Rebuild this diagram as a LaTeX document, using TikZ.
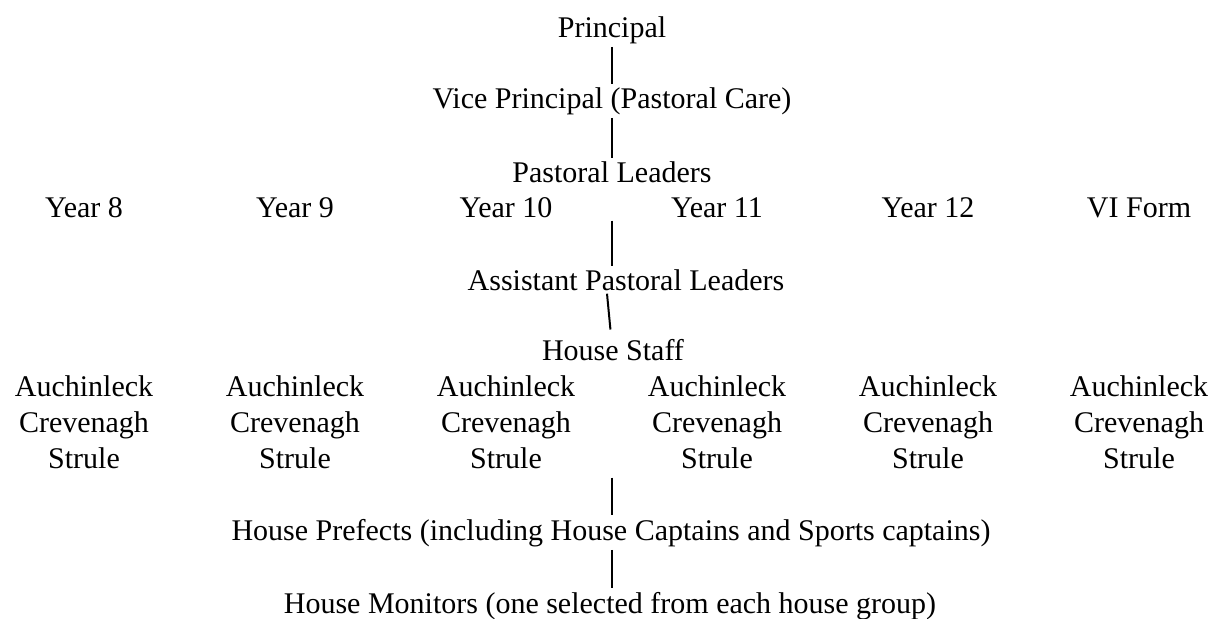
\documentclass[tikz,border=0pt]{standalone}
\usepackage{fontspec}
\setmainfont{Liberation Serif}

\begin{document}
\begin{tikzpicture}[x=0.5pt,y=-0.5pt,
    lbl/.style={anchor=base,inner sep=1.5pt,font=\fontsize{15}{17.8}\selectfont},
    link/.style={line width=1pt}]
                    \useasboundingbox (0,0) rectangle (1213,618);
                    % top of the chain
                    \node[lbl] (prin) at (612,37) {Principal};
                    \node[lbl] (vice) at (612,108) {Vice Principal (Pastoral Care)};
                    \node[lbl] (past) at (612,182) {Pastoral Leaders};
                    % year groups
                    \foreach \i/\yr in {0/Year 8,1/Year 9,2/Year 10,3/Year 11,4/Year 12,5/VI Form}
                        \node[lbl] (y\i) at ({84+211*\i},217) {\yr};
                    \node[lbl] (asst) at (626,290) {Assistant Pastoral Leaders};
                    \node[lbl] (staff) at (613,360) {House Staff};
                    % houses in each year (base is the last line)
                    \foreach \i in {0,...,5}
                        \node[lbl,align=center] (h\i) at ({84+211*\i},468) {Auchinleck\\Crevenagh\\Strule};
                    \node[lbl] (pref) at (611,540) {House Prefects (including House Captains and Sports captains)};
                    \node[lbl] (mon) at (610,613) {House Monitors (one selected from each house group)};
                    % links
                    \draw [link] (prin.south)--(vice.north);
                    \draw [link] (vice.south)--(past.north);
                    \draw [link] (y2.south -| past.south)--(asst.north -| past.south);
                    \draw [link,shorten >=3pt] ([xshift=-9.5pt]asst.south)--([xshift=-1pt]staff.north);
                    \draw [link,shorten <=3pt] (h2.south -| past.south)--(pref.north -| past.south);
                    \draw [link] (pref.south -| past.south)--(mon.north -| past.south);
            \end{tikzpicture}
\end{document}
